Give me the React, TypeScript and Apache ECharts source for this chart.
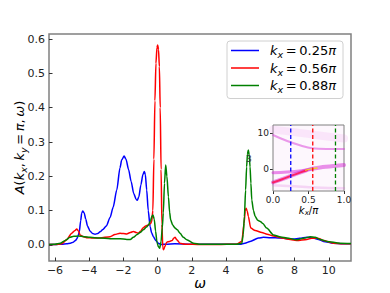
import React, { useEffect, useRef } from 'react';
import * as echarts from 'echarts';

// ---------- data ----------
const kxLabels = ['0.25', '0.56', '0.88'];
const kxCuts = [0.25, 0.56, 0.88];
const lineColors = ['#0000ff', '#ff0000', '#008000'];
const xTicks = [-6, -4, -2, 0, 2, 4, 6, 8, 10];
const yTicks = [0, 0.1, 0.2, 0.3, 0.4, 0.5, 0.6];
const insetXTicks = [0, 0.5, 1];
const insetYTicks = [0, 10];

const blue: number[][] = [
  [-6.35, 0.001], [-6, 0.001], [-5.6, 0.002], [-5.32, 0.003], [-5.1, 0.005], [-4.93, 0.008], [-4.8, 0.013],
  [-4.73, 0.017], [-4.65, 0.026], [-4.58, 0.038], [-4.5, 0.07], [-4.44, 0.092], [-4.38, 0.099], [-4.3, 0.094],
  [-4.2, 0.075], [-4.1, 0.055], [-3.95, 0.04], [-3.8, 0.033], [-3.66, 0.031], [-3.5, 0.033], [-3.37, 0.038],
  [-3.2, 0.045], [-3.0, 0.055], [-2.78, 0.08], [-2.6, 0.11], [-2.39, 0.16], [-2.2, 0.225], [-2.1, 0.248],
  [-1.96, 0.259], [-1.85, 0.25], [-1.7, 0.22], [-1.55, 0.185], [-1.4, 0.15], [-1.25, 0.132], [-1.19, 0.13],
  [-1.1, 0.14], [-0.98, 0.175], [-0.86, 0.205], [-0.78, 0.214], [-0.72, 0.205], [-0.64, 0.16], [-0.55, 0.1],
  [-0.44, 0.053], [-0.35, 0.035], [-0.25, 0.024], [-0.1, 0.012], [0.04, 0.005], [0.2, 0.001], [0.5, 0.002],
  [1, 0.003], [2, 0.002], [3, 0.002], [4, 0.002], [4.82, 0.002], [5.1, 0.005], [5.4, 0.01], [5.89, 0.02],
  [6.18, 0.022], [6.6, 0.021], [7.16, 0.02], [7.6, 0.018], [7.94, 0.017], [8.3, 0.019], [8.72, 0.022],
  [9.1, 0.02], [9.4, 0.016], [9.69, 0.01], [10.27, 0.005], [10.8, 0.003], [11.3, 0.003],
];

const red: number[][] = [
  [-6.35, 0.001], [-6, 0.001], [-5.6, 0.003], [-5.32, 0.015], [-5.02, 0.034], [-4.83, 0.042], [-4.73, 0.046],
  [-4.62, 0.04], [-4.54, 0.029], [-4.34, 0.024], [-4.1, 0.021], [-3.8, 0.02], [-3.37, 0.02], [-2.78, 0.024],
  [-2.5, 0.03], [-2.2, 0.034], [-2.0, 0.033], [-1.81, 0.032], [-1.6, 0.036], [-1.42, 0.039], [-1.25, 0.036],
  [-1.13, 0.034], [-1.0, 0.04], [-0.84, 0.05], [-0.7, 0.055], [-0.54, 0.058], [-0.42, 0.062], [-0.35, 0.068],
  [-0.28, 0.1], [-0.22, 0.25], [-0.16, 0.42], [-0.1, 0.53], [-0.04, 0.575], [0, 0.583], [0.05, 0.57],
  [0.1, 0.52], [0.15, 0.4], [0.2, 0.22], [0.25, 0.06], [0.3, -0.008], [0.35, -0.014], [0.42, -0.005],
  [0.53, 0.008], [0.7, 0.01], [0.85, 0.013], [0.95, 0.02], [1.02, 0.022], [1.12, 0.015], [1.3, 0.005],
  [1.6, 0.002], [2.5, 0.001], [3.5, 0.001], [4.6, 0.002], [4.92, 0.01], [5.05, 0.063], [5.12, 0.1],
  [5.17, 0.107], [5.24, 0.098], [5.3, 0.083], [5.44, 0.049], [5.7, 0.042], [6.09, 0.036], [6.4, 0.031],
  [6.77, 0.026], [7.2, 0.021], [7.55, 0.017], [8.13, 0.0125], [8.72, 0.016], [9.0, 0.019], [9.3, 0.02],
  [9.5, 0.017], [9.69, 0.0125], [10.27, 0.005], [10.8, 0.003], [11.3, 0.003],
];

const green: number[][] = [
  [-6.35, 0.001], [-6, 0.002], [-5.7, 0.005], [-5.4, 0.013], [-5.12, 0.022], [-4.9, 0.025], [-4.64, 0.026],
  [-4.3, 0.024], [-3.95, 0.022], [-3.4, 0.02], [-2.78, 0.018], [-2.2, 0.018], [-1.8, 0.016], [-1.6, 0.016],
  [-1.42, 0.022], [-1.2, 0.03], [-1.03, 0.036], [-0.84, 0.044], [-0.65, 0.052], [-0.54, 0.058], [-0.42, 0.07],
  [-0.33, 0.084], [-0.27, 0.087], [-0.2, 0.075], [-0.12, 0.04], [-0.04, 0.008], [0.04, -0.005], [0.12, -0.01],
  [0.2, 0.01], [0.27, 0.05], [0.33, 0.093], [0.4, 0.18], [0.47, 0.233], [0.54, 0.2], [0.63, 0.14],
  [0.7, 0.095], [0.76, 0.073], [0.88, 0.058], [1.02, 0.049], [1.15, 0.044], [1.31, 0.034], [1.5, 0.022],
  [1.7, 0.015], [2.09, 0.005], [2.5, 0.002], [3.5, 0.002], [4.6, 0.002], [4.92, 0.005], [5.0, 0.03],
  [5.07, 0.083], [5.14, 0.16], [5.2, 0.228], [5.25, 0.265], [5.3, 0.277], [5.35, 0.262], [5.4, 0.228],
  [5.45, 0.18], [5.5, 0.131], [5.6, 0.1], [5.7, 0.083], [5.85, 0.072], [6.0, 0.068], [6.15, 0.062],
  [6.37, 0.049], [6.77, 0.029], [7.2, 0.023], [7.55, 0.02], [8.13, 0.015], [8.6, 0.02], [8.91, 0.024],
  [9.2, 0.022], [9.5, 0.016], [9.89, 0.01], [10.66, 0.005], [11.3, 0.004],
];

// inset band ridges (kx/π, ω)
const bandMain: number[][] = [[0, -3.8], [0.13, -2.9], [0.26, -1.9], [0.4, -0.9], [0.54, 0], [0.7, 0.5], [0.85, 0.8], [1, 1.1]];
const bandMainCore: number[][] = [[0, -3.8], [0.13, -2.9], [0.26, -1.9], [0.4, -0.9], [0.48, -0.4]];
const bandYellow: number[][] = [[0.46, -0.35], [0.54, 0], [0.62, 0.25]];
const bandSecond: number[][] = [[0, -1.1], [0.2, -0.9], [0.4, -0.5], [0.55, 0]];
const bandLow: number[][] = [[0, -4.6], [0.3, -4.9], [0.6, -5.2], [1, -5.4]];
const bandUpper: number[][] = [[0, 9.5], [0.2, 7.8], [0.4, 6.5], [0.55, 5.8], [0.75, 5.6], [1, 5.6]];
const bandTop: number[][] = [[0, 11], [0.3, 10.3], [0.6, 9.5], [1, 8.5]];
const insetYRange = [-6.2, 12.3];

const seriesData = [blue, red, green];

const fmtNum = (v: number) => (v < 0 ? '\u2212' + String(Math.abs(v)) : String(v));
const TS = '\u2009';

export default function App() {
  const ref = useRef<HTMLDivElement>(null);
  useEffect(() => {
    if (!ref.current) return;
    const chart = echarts.init(ref.current, null, { renderer: 'svg' });
    const font = 'DejaVu Sans';
    const names = kxLabels.map((k) => `kx = ${k}π`);
    const mainSeries = seriesData.map((d, i) => ({
      name: names[i],
      type: 'line',
      xAxisIndex: 0,
      yAxisIndex: 0,
      data: d,
      showSymbol: false,
      symbol: 'none',
      smooth: 0.25,
      smoothMonotone: 'x',
      lineStyle: { color: lineColors[i], width: 1.5 },
      itemStyle: { color: lineColors[i] },
      z: 3,
    }));
    const band = (data: number[][], color: string, width: number, opacity: number) => ({
      type: 'line',
      xAxisIndex: 1,
      yAxisIndex: 1,
      data,
      showSymbol: false,
      symbol: 'none',
      smooth: 0.4,
      silent: true,
      lineStyle: { color, width, opacity, cap: 'round' },
      z: 5,
    });
    const cutSeries = kxCuts.map((k, i) => ({
      type: 'line',
      xAxisIndex: 1,
      yAxisIndex: 1,
      data: [[k, insetYRange[0]], [k, insetYRange[1]]],
      showSymbol: false,
      symbol: 'none',
      silent: true,
      lineStyle: { color: lineColors[i], width: 1.3, type: [4, 2.5] },
      z: 6,
    }));
    const richBase = {
      n: { fontFamily: font, fontSize: 13, color: '#000', lineHeight: 18 },
      i: { fontFamily: font, fontSize: 13, fontStyle: 'italic', color: '#000', lineHeight: 18 },
      s: { fontFamily: font, fontSize: 9.5, fontStyle: 'italic', color: '#000', lineHeight: 10, verticalAlign: 'bottom' },
    };
    const noLine = { show: false, onZero: false };
    const option: any = {
      animation: false,
      grid: [
        { left: 49, top: 34, width: 302, height: 227, show: true, borderColor: '#808080', borderWidth: 1.5, backgroundColor: 'transparent', outerBoundsMode: 'none', containLabel: false },
        { left: 273, top: 125, width: 71, height: 66, show: true, borderColor: '#808080', borderWidth: 1, backgroundColor: '#fdf7fd', z: 4, outerBoundsMode: 'none', containLabel: false },
      ],
      legend: {
        data: names,
        orient: 'vertical',
        left: 227,
        top: 41,
        icon: 'rect',
        itemWidth: 28,
        itemHeight: 1.5,
        itemGap: 2,
        padding: [3, 7, 4, 4],
        backgroundColor: '#ffffff',
        borderColor: '#d0d0d0',
        borderWidth: 1,
        borderRadius: 3,
        formatter: (name: string) => {
          const idx = names.indexOf(name);
          return `{f|k}{s|x}{n|${TS}=${TS}${kxLabels[idx]}}{i|π}`;
        },
        textStyle: {
          rich: { ...richBase, f: { ...richBase.i, padding: [0, 0, 0, 6] } },
        },
        z: 10,
      },
      xAxis: [
        {
          type: 'value', gridIndex: 0, min: -6.35, max: 11.3,
          axisLine: noLine,
          splitLine: { show: false },
          axisTick: { show: true, inside: true, length: 3.5, customValues: xTicks, lineStyle: { color: '#333', width: 1 } },
          axisLabel: { customValues: xTicks, formatter: (v: number) => fmtNum(v), fontFamily: font, fontSize: 11, color: '#222', margin: 4 },
          name: 'ω', nameLocation: 'middle', nameGap: 15, nameMoveOverlap: false,
          nameTextStyle: { fontFamily: font, fontSize: 14, fontStyle: 'italic', color: '#000', lineHeight: 14 },
        },
        {
          type: 'value', gridIndex: 1, min: 0, max: 1, interval: 0.5,
          axisLine: noLine,
          splitLine: { show: false },
          axisTick: { show: true, inside: false, length: 3, lineStyle: { color: '#333' } },
          axisLabel: { customValues: insetXTicks, formatter: (v: number) => v.toFixed(1), fontFamily: font, fontSize: 9, color: '#222', margin: 4 },
          name: '{i|k}{s|x}{n|/}{i|π}', nameLocation: 'middle', nameGap: 13, nameMoveOverlap: false,
          nameTextStyle: {
            rich: {
              n: { fontFamily: font, fontSize: 10, color: '#000', lineHeight: 12 },
              i: { fontFamily: font, fontSize: 10, fontStyle: 'italic', color: '#000', lineHeight: 12 },
              s: { fontFamily: font, fontSize: 7, fontStyle: 'italic', color: '#000', lineHeight: 7, verticalAlign: 'bottom' },
            },
          },
        },
      ],
      yAxis: [
        {
          type: 'value', gridIndex: 0, min: -0.047, max: 0.615,
          axisLine: noLine,
          splitLine: { show: false },
          axisTick: { show: true, inside: true, length: 3.5, customValues: yTicks, lineStyle: { color: '#333', width: 1 } },
          axisLabel: { customValues: yTicks, formatter: (v: number) => v.toFixed(1), fontFamily: font, fontSize: 11, color: '#222', margin: 4 },
          name: `{i|A}{n|(}{i|k}{s|x}{n|,${TS}}{i|k}{s|y}{n|${TS}=${TS}}{i|π}{n|,${TS}}{i|ω}{n|)}`,
          nameLocation: 'middle', nameGap: 21, nameRotate: 90, nameMoveOverlap: false,
          nameTextStyle: { rich: richBase },
        },
        {
          type: 'value', gridIndex: 1, min: insetYRange[0], max: insetYRange[1],
          axisLine: noLine,
          splitLine: { show: false },
          axisTick: { show: true, inside: false, length: 3, customValues: insetYTicks, lineStyle: { color: '#333' } },
          axisLabel: { customValues: insetYTicks, formatter: (v: number) => String(v), fontFamily: font, fontSize: 9, color: '#222', margin: 4 },
        },
      ],
      graphic: [
        { type: 'text', x: 246, y: 154, z: 20, style: { text: '3', fontFamily: font, fontSize: 9, fill: '#333' } },
      ],
      series: [
        ...mainSeries,
        band(bandTop, '#ee80ee', 8, 0.15),
        band(bandUpper, '#d83ad8', 2, 0.5),
        band(bandLow, '#e070e0', 2.5, 0.25),
        band(bandSecond, '#d820d8', 3, 0.5),
        band(bandMain, '#d010d0', 4, 0.45),
        band(bandMainCore, '#ff1050', 2, 0.85),
        band(bandYellow, '#f0d020', 1.5, 0.9),
        ...cutSeries,
      ],
    };
    chart.setOption(option);
    return () => chart.dispose();
  }, []);
  return <div ref={ref} style={{ width: 390, height: 293, position: 'absolute', left: 0, top: 0 }} />;
}
